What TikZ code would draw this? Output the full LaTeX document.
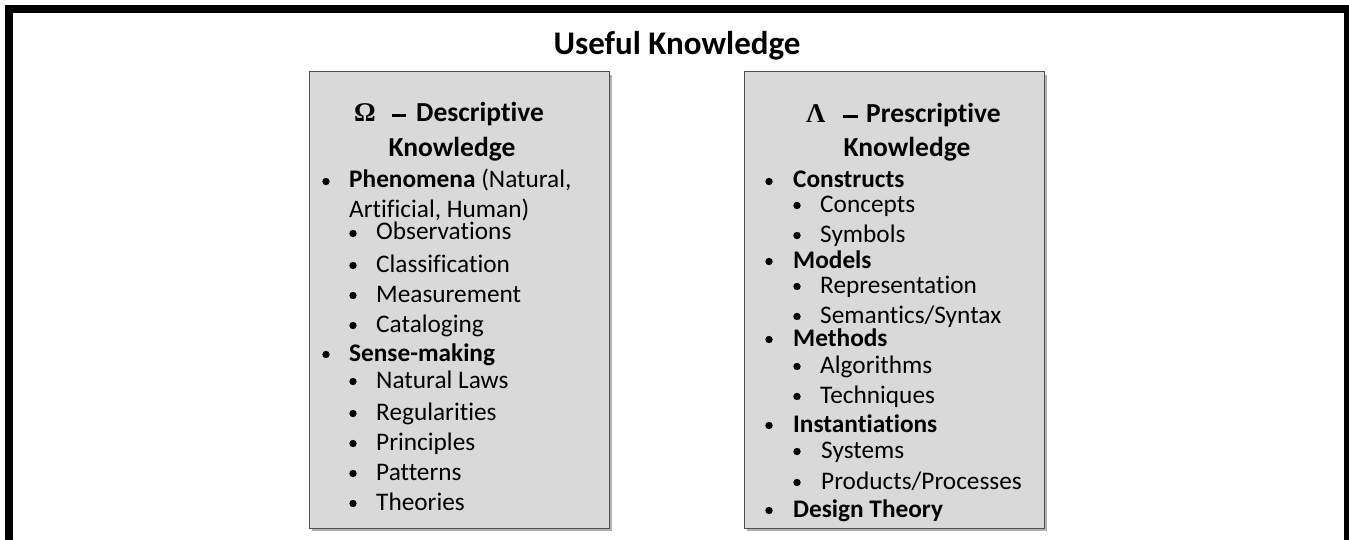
\documentclass[tikz,border=0pt]{standalone}
\usepackage{fontspec}
\setmainfont{Carlito}[Ligatures=CommonOff]
\newfontfamily\symfont{Liberation Serif}
\definecolor{boxgray}{HTML}{D9D9D9}
\definecolor{boxedge}{HTML}{505050}
\definecolor{shadowgray}{HTML}{B0B0B0}
\newcommand\bul[2]{\fill (#1,#2) ++(0,-6.5) circle[radius=3.7];}
\begin{document}
\begin{tikzpicture}[x=1pt,y=-1pt,
  txt/.style={anchor=base west,inner sep=0pt,font=\fontsize{25.3}{30}\selectfont},
  btxt/.style={anchor=base west,inner sep=0pt,font=\fontsize{25.3}{30}\selectfont\bfseries},
  head/.style={anchor=base west,inner sep=0pt,font=\fontsize{27.5}{32}\selectfont\bfseries},
  greek/.style={anchor=base west,inner sep=0pt,font=\fontsize{27}{30}\selectfont\symfont\bfseries},
  panel/.style={fill=boxgray,draw=boxedge,line width=1pt},
  shade/.style={fill=shadowgray}]
\useasboundingbox (0,0) rectangle (1349,540);
\clip (0,0) rectangle (1349,540);
\fill[white] (0,0) rectangle (1349,540);
% frame
\draw[line width=8pt] (9,9) rectangle (1348,580);
% title
\node[anchor=base,inner sep=0pt,font=\fontsize{33}{38}\selectfont\bfseries] (title) at (677,55) {Useful Knowledge};
% boxes
\fill[shade] (312,75) rectangle (612,531);
\draw[panel] (309,72) rectangle (609,528);
\fill[shade] (747,75) rectangle (1047,531);
\draw[panel] (744,72) rectangle (1044,528);
% left box
\node[greek] (om) at (354,122) {Ω};
\node[anchor=base west,inner sep=0pt] (d1) at (392,122) {\rule[4.8pt]{13.5pt}{3pt}};
\node[head] (d2) at (416,122) {Descriptive};
\node[head,anchor=base] (k1) at (452,157) {Knowledge};
\bul{326}{188}
\node[txt] (l1) at (349,188) {\textbf{Phenomena} (Natural,};
\node[txt] (l2) at (349,218) {Artificial, Human)};
\bul{353}{240}
\node[txt] (l3) at (376,240) {Observations};
\bul{353}{272}
\node[txt] (l4) at (376,272) {Classification};
\bul{353}{302}
\node[txt] (l5) at (376,302) {Measurement};
\bul{353}{332}
\node[txt] (l6) at (376,332) {Cataloging};
\bul{326}{361}
\node[btxt] (l7) at (349,361) {Sense-making};
\bul{353}{388}
\node[txt] (l8) at (376,388) {Natural Laws};
\bul{353}{420}
\node[txt] (l9) at (376,420) {Regularities};
\bul{353}{450}
\node[txt] (l10) at (376,450) {Principles};
\bul{353}{480}
\node[txt] (l11) at (376,480) {Patterns};
\bul{353}{510}
\node[txt] (l12) at (376,510) {Theories};
% right box
\node[greek] (la) at (806,123) {Λ};
\node[anchor=base west,inner sep=0pt] (e1) at (843,123) {\rule[4.8pt]{15pt}{3pt}};
\node[head] (e2) at (866,123) {Prescriptive};
\node[head,anchor=base] (k2) at (907,157) {Knowledge};
\bul{769}{188}
\node[btxt] (r1) at (793,188) {Constructs};
\bul{797}{212}
\node[txt] (r2) at (820,212) {Concepts};
\bul{797}{242}
\node[txt] (r3) at (820,242) {Symbols};
\bul{769}{268}
\node[btxt] (r4) at (793,268) {Models};
\bul{797}{293}
\node[txt] (r5) at (820,293) {Representation};
\bul{797}{323}
\node[txt] (r6) at (820,323) {Semantics/Syntax};
\bul{769}{346}
\node[btxt] (r7) at (793,346) {Methods};
\bul{797}{373}
\node[txt] (r8) at (820,373) {Algorithms};
\bul{797}{403}
\node[txt] (r9) at (820,403) {Techniques};
\bul{769}{432}
\node[btxt] (r10) at (793,432) {Instantiations};
\bul{797}{458}
\node[txt] (r11) at (821,458) {Systems};
\bul{797}{489}
\node[txt] (r12) at (821,489) {Products/Processes};
\bul{769}{517}
\node[btxt] (r13) at (793,517) {Design Theory};
\end{tikzpicture}
\end{document}
